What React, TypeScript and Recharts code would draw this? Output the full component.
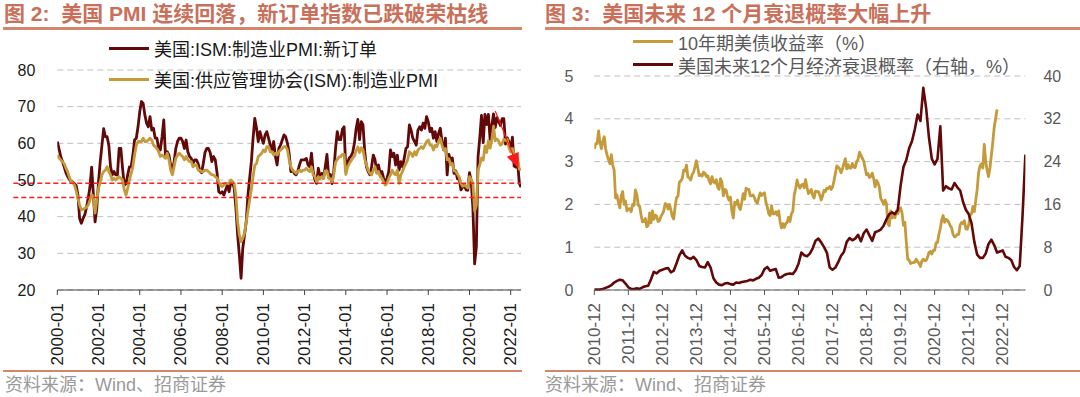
import React from 'react';
import { LineChart, Line, XAxis, YAxis, CartesianGrid, ReferenceLine, Legend } from 'recharts';

// ---------------- Left chart data (monthly, 2000-01 .. 2022-07) ----------------
const LEFT_TICKS = [0, 24, 48, 72, 96, 120, 144, 168, 192, 216, 240, 264];
const LEFT_TICK_LABELS = ['2000-01', '2002-01', '2004-01', '2006-01', '2008-01', '2010-01', '2012-01', '2014-01', '2016-01', '2018-01', '2020-01', '2022-01'];
const LEFT_Y_TICKS = [20, 30, 40, 50, 60, 70, 80];

const NEW_ORDERS = [
  60.5, 58.5, 56.4, 55.0, 53.6, 52.0, 51.0, 50.2, 49.5, 49.5, 49.0, 48.5,
  46.0, 39.5, 38.2, 39.5, 40.5, 42.5, 45.0, 48.0, 53.5, 46.0, 38.6, 42.3,
  49.5, 55.0, 59.5, 64.0, 61.8, 61.8, 59.5, 53.6, 51.4, 52.3, 51.4, 51.4,
  58.6, 58.6, 53.2, 48.6, 49.0, 51.4, 53.6, 53.6, 56.8, 60.9, 61.4, 64.5,
  68.6, 71.4, 70.9, 67.7, 65.5, 64.5, 67.3, 63.6, 64.1, 61.4, 61.4, 58.6,
  58.2, 61.8, 66.4, 56.4, 57.7, 56.8, 54.1, 52.3, 55.0, 58.6, 60.5, 61.4,
  61.4, 60.5, 58.6, 60.9, 57.7, 56.4, 55.9, 54.5, 55.5, 55.5, 54.5, 52.5,
  52.0, 54.5, 57.5, 58.6, 58.6, 57.5, 55.0, 56.4, 55.5, 52.0, 46.8, 46.4,
  46.8, 45.9, 47.3, 48.6, 46.8, 49.1, 49.5, 47.7, 42.3, 35.0, 29.5, 23.2,
  31.4, 35.0, 38.6, 45.9, 50.5, 55.0, 61.4, 66.8, 64.1, 60.5, 63.2, 61.4,
  60.0, 62.3, 63.2, 61.4, 59.5, 58.2, 60.5, 56.4, 54.1, 58.6, 59.5, 60.9,
  62.3, 61.8, 60.0, 57.3, 52.3, 52.7, 51.8, 51.4, 52.3, 54.1, 55.5, 55.5,
  55.5, 55.9, 54.1, 53.6, 57.3, 52.3, 50.0, 49.1, 53.2, 50.5, 51.8, 50.5,
  53.5, 57.0, 51.0, 51.5, 49.0, 52.5, 58.5, 63.2, 61.0, 61.0, 63.8, 64.5,
  52.5, 54.8, 56.0, 56.5, 57.5, 60.0, 64.0, 66.5, 61.0, 65.9, 65.0, 57.8,
  53.6, 52.3, 51.4, 53.6, 56.8, 55.5, 52.3, 54.1, 51.8, 52.3, 50.5, 49.1,
  50.5, 52.3, 58.2, 56.4, 57.3, 54.1, 56.8, 52.7, 55.0, 53.6, 55.9, 58.6,
  59.1, 65.0, 63.6, 61.4, 60.5, 59.5, 63.6, 64.5, 63.6, 65.5, 64.1, 67.3,
  65.9, 63.2, 64.1, 61.4, 63.2, 60.5, 62.7, 64.1, 60.5, 58.2, 61.4, 51.4,
  57.0, 55.3, 56.0, 51.8, 52.5, 50.3, 50.5, 47.3, 48.0, 48.6, 47.3, 47.2,
  52.0, 49.8, 42.2, 27.1, 31.8, 56.4, 61.5, 67.6, 60.2, 67.9, 65.1, 67.9,
  61.1, 64.8, 68.0, 64.3, 67.0, 66.0, 64.9, 66.7, 66.7, 59.8, 61.5, 60.4,
  57.9, 61.7, 53.8, 53.5, 55.1, 49.2, 48.0,
];

const PMI = [
  56.8, 56.0, 55.5, 54.9, 54.5, 53.3, 52.3, 50.8, 49.5, 49.3, 48.6, 47.0,
  45.0, 43.2, 41.8, 42.0, 42.3, 42.5, 43.2, 44.5, 46.0, 45.5, 41.0, 44.5,
  47.7, 49.5, 51.4, 52.3, 52.7, 53.6, 52.3, 51.4, 50.0, 50.5, 50.0, 50.5,
  50.9, 50.5, 50.0, 47.3, 45.9, 47.7, 50.0, 51.8, 53.6, 56.8, 59.5, 60.5,
  60.5, 60.5, 61.4, 60.5, 60.5, 60.9, 61.4, 60.9, 59.5, 59.1, 58.6, 57.7,
  56.4, 56.8, 56.4, 55.9, 57.3, 55.5, 52.7, 51.4, 53.6, 55.9, 56.8, 57.3,
  56.8, 56.4, 55.5, 56.4, 55.5, 55.0, 55.0, 53.6, 54.1, 54.1, 52.7, 52.7,
  52.3, 52.3, 52.7, 52.7, 52.3, 51.8, 51.4, 51.4, 50.9, 50.5, 49.5, 48.6,
  48.2, 48.6, 49.1, 49.1, 49.1, 50.0, 49.5, 49.1, 45.9, 38.6, 35.0, 33.2,
  34.1, 35.5, 38.5, 41.5, 44.5, 47.5, 51.0, 54.0, 54.5, 56.4, 56.8, 57.3,
  58.2, 57.7, 59.1, 59.1, 57.7, 57.7, 56.8, 57.3, 56.8, 57.7, 58.2, 58.6,
  59.1, 59.1, 58.2, 55.5, 53.6, 52.7, 52.3, 51.8, 52.3, 52.7, 52.3, 52.7,
  52.7, 53.2, 52.7, 52.3, 53.6, 51.4, 50.9, 49.5, 50.9, 50.5, 50.9, 50.5,
  52.5, 52.5, 50.5, 50.3, 49.5, 51.5, 54.8, 55.6, 56.3, 56.4, 57.0, 57.0,
  51.5, 53.4, 54.5, 55.2, 56.0, 56.5, 58.0, 59.0, 57.5, 58.8, 58.2, 55.7,
  54.1, 52.7, 51.8, 51.4, 52.7, 53.6, 51.8, 52.3, 50.9, 50.5, 49.5, 48.6,
  49.1, 50.5, 51.4, 52.7, 51.8, 51.4, 52.7, 49.1, 51.4, 52.3, 53.6, 54.5,
  55.5, 57.7, 57.3, 56.4, 57.7, 56.8, 58.2, 58.6, 59.1, 58.6, 59.5, 60.5,
  60.9, 59.5, 59.5, 58.2, 59.5, 59.1, 60.5, 61.4, 59.5, 58.2, 58.6, 55.5,
  55.8, 54.2, 54.5, 52.5, 52.3, 51.6, 50.8, 49.1, 48.3, 48.5, 48.3, 47.8,
  50.9, 50.1, 49.1, 41.5, 43.1, 52.6, 54.2, 56.0, 55.4, 59.3, 57.5, 60.7,
  58.7, 60.8, 64.7, 60.7, 61.2, 60.6, 59.5, 59.9, 61.1, 60.8, 61.1, 58.8,
  57.6, 58.6, 57.1, 55.4, 56.1, 53.0, 52.8,
];

// red dashed reference levels and the annotation arrow (month index, value)
const RED_LEVELS = [49.1, 45.2];
const ARROW = [{ x: 255, y: 68.8 }, { x: 268.5, y: 53.2 }];

// ---------------- Right chart data ----------------
const RIGHT_TICKS = [0, 12, 24, 36, 48, 60, 72, 84, 96, 108, 120, 132, 144];
const RIGHT_TICK_LABELS = ['2010-12', '2011-12', '2012-12', '2013-12', '2014-12', '2015-12', '2016-12', '2017-12', '2018-12', '2019-12', '2020-12', '2021-12', '2022-12'];
const YIELD_TICKS = [0, 1, 2, 3, 4, 5];
const PROB_TICKS = [0, 8, 16, 24, 32, 40];

// 10Y UST yield, half-month steps starting 2010-12
const YIELD_10Y = [
  3.30, 3.42, 3.42, 3.72, 3.45, 3.30, 3.47, 3.58, 3.30, 3.15, 3.05, 2.95, 3.16, 2.92, 2.80, 2.15, 2.22, 2.05, 1.92, 2.20, 2.30, 2.00, 2.08, 1.85,
  1.89, 1.90, 1.83, 2.00, 1.98, 2.34, 2.23, 1.98, 1.95, 1.75, 1.59, 1.60, 1.67, 1.48, 1.51, 1.80, 1.57, 1.85, 1.65, 1.75, 1.72, 1.60, 1.62, 1.72,
  1.78, 1.85, 2.02, 2.00, 1.89, 2.00, 1.87, 1.72, 1.66, 1.95, 2.16, 2.19, 2.52, 2.55, 2.60, 2.80, 2.78, 2.92, 2.64, 2.62, 2.57, 2.70, 2.75, 2.88,
  3.02, 2.85, 2.67, 2.70, 2.66, 2.75, 2.73, 2.65, 2.67, 2.55, 2.48, 2.65, 2.53, 2.50, 2.58, 2.40, 2.35, 2.60, 2.52, 2.20, 2.35, 2.33, 2.18, 2.10,
  2.17, 1.85, 1.68, 2.05, 2.00, 2.10, 1.94, 1.88, 2.05, 2.25, 2.12, 2.38, 2.35, 2.35, 2.20, 2.20, 2.22, 2.15, 2.06, 2.03, 2.16, 2.27, 2.21, 2.25,
  2.27, 2.05, 1.94, 1.78, 1.74, 1.97, 1.78, 1.78, 1.83, 1.75, 1.85, 1.60, 1.45, 1.55, 1.46, 1.55, 1.58, 1.70, 1.60, 1.78, 1.84, 2.22, 2.37, 2.57,
  2.45, 2.38, 2.45, 2.47, 2.39, 2.58, 2.40, 2.25, 2.29, 2.35, 2.21, 2.15, 2.31, 2.30, 2.30, 2.22, 2.10, 2.20, 2.33, 2.30, 2.38, 2.37, 2.42, 2.35,
  2.40, 2.55, 2.72, 2.90, 2.87, 2.83, 2.74, 2.83, 2.95, 3.07, 2.83, 2.93, 2.85, 2.85, 2.96, 2.87, 2.86, 3.00, 3.05, 3.22, 3.15, 3.08, 3.01, 2.85,
  2.69, 2.72, 2.63, 2.65, 2.73, 2.60, 2.41, 2.56, 2.51, 2.40, 2.14, 2.08, 2.00, 2.10, 2.02, 1.55, 1.50, 1.85, 1.68, 1.75, 1.69, 1.83, 1.78, 1.88,
  1.92, 1.80, 1.51, 1.58, 1.13, 0.72, 0.70, 0.62, 0.64, 0.64, 0.65, 0.72, 0.66, 0.62, 0.55, 0.68, 0.72, 0.68, 0.69, 0.76, 0.88, 0.90, 0.84, 0.92,
  0.93, 1.10, 1.11, 1.30, 1.44, 1.64, 1.74, 1.58, 1.65, 1.63, 1.58, 1.50, 1.45, 1.30, 1.24, 1.26, 1.30, 1.30, 1.52, 1.58, 1.55, 1.62, 1.43, 1.42,
  1.52, 1.75, 1.78, 1.95, 1.83, 2.10, 2.35, 2.75, 2.90, 2.95, 2.85, 3.40, 3.00, 2.80, 2.65, 2.85, 3.15, 3.45, 3.80, 4.00, 4.22,
];

// US 12-month-ahead recession probability (%), monthly starting 2010-12
const RECESSION_PROB = [
  0.1, 0.1, 0.1, 0.2, 0.4, 0.6, 0.9, 1.4, 1.7, 1.9, 1.8, 1.2,
  0.5, 0.2, 0.2, 0.3, 0.2, 0.5, 0.7, 0.8, 2.0, 3.4, 3.1, 3.6,
  3.8, 4.0, 4.1, 3.3, 3.6, 5.0, 6.5, 7.4, 6.4, 6.0, 5.8, 6.2,
  5.6, 4.5, 4.3, 4.2, 5.2, 4.2, 2.2, 1.4, 1.0, 0.9, 1.2, 1.3,
  1.1, 1.0, 1.4, 1.3, 1.5, 1.6, 1.7, 1.9, 1.8, 2.1, 2.3, 2.8,
  3.9, 4.3, 3.6, 3.8, 3.9, 2.3, 2.4, 2.8, 3.0, 3.1, 3.0, 3.7,
  4.9, 7.0, 6.5, 6.3, 6.8, 7.8, 9.2, 9.6, 8.9, 8.0, 7.0, 4.2,
  3.8, 4.2, 5.2, 6.4, 7.1, 9.0, 9.7, 9.3, 9.6, 10.3, 9.1, 10.6,
  11.3, 10.2, 9.2, 10.8, 11.0, 11.3, 12.0, 13.2, 14.2, 14.5, 14.2, 15.0,
  19.5, 23.0, 24.3, 26.5, 27.8, 30.0, 32.8, 31.6, 37.8, 34.0, 28.5, 24.5,
  23.5, 24.5, 30.6, 18.6, 19.4, 19.0, 18.8, 20.0, 19.2, 18.6, 16.5, 15.0,
  14.2, 12.5, 9.0, 6.6, 6.0, 6.0, 6.8, 8.6, 9.4, 8.4, 7.0, 7.2,
  7.4, 6.2, 6.0, 5.6, 4.3, 3.7, 4.5, 14.0, 25.3,
];

// ---------------- styles ----------------
const MAROON = '#620808';
const GOLD = '#C49A3A';
const TITLE_COLOR = '#C8705A';
const RULE_COLOR = '#D3866A';
const GRID = '#BFBFBF';
const LATIN = "'Liberation Sans', Arial, 'Noto Sans CJK SC', sans-serif";

const leftData = NEW_ORDERS.map((v, i) => ({ m: i, no: v, pmi: PMI[i] }));
const yieldData = YIELD_10Y.map((v, i) => ({ m: i / 2, y: v }));
const probData = RECESSION_PROB.map((v, i) => ({ m: i, p: v }));

const makeTick = (ticks: number[], labels: string[], color: string) => (props: any) => {
  const { x, y, payload } = props;
  const idx = ticks.indexOf(payload.value);
  return (
    <text
      transform={`translate(${x},${y}) rotate(-90)`}
      textAnchor="end"
      dominantBaseline="central"
      fontSize={17}
      fontFamily={LATIN}
      fill={color}
    >
      {labels[idx]}
    </text>
  );
};

const redLineShape = (p: any) => (
  <line x1={p.x1 - 44} y1={p.y1} x2={p.x2} y2={p.y2} stroke="#FF1F1F" strokeWidth={1.5} strokeDasharray="5 3" />
);

const arrowShape = (p: any) => {
  const { x1, y1, x2, y2 } = p;
  const ang = Math.atan2(y2 - y1, x2 - x1);
  const L = 15;
  const W = 6.5;
  const bx = x2 - L * Math.cos(ang);
  const by = y2 - L * Math.sin(ang);
  const px = -Math.sin(ang) * W;
  const py = Math.cos(ang) * W;
  return (
    <g>
      <line x1={x1} y1={y1} x2={bx} y2={by} stroke="#FF1A1A" strokeWidth={1.2} />
      <polygon points={`${x2},${y2} ${bx + px},${by + py} ${bx - px},${by - py}`} fill="#FF1A1A" />
    </g>
  );
};

const legendContent = (items: { label: string; color: string }[], rowH: number, textColor: string) => () => (
  <div style={{ display: 'flex', flexDirection: 'column', fontFamily: LATIN, fontSize: 18, color: textColor }}>
    {items.map((it) => (
      <div key={it.label} style={{ display: 'flex', alignItems: 'center', height: rowH, whiteSpace: 'nowrap' }}>
        <span style={{ display: 'inline-block', width: 40, height: 3, background: it.color, marginRight: 5 }} />
        <span>{it.label}</span>
      </div>
    ))}
  </div>
);

const LEFT_LEGEND = [
  { label: '美国:ISM:制造业PMI:新订单', color: MAROON },
  { label: '美国:供应管理协会(ISM):制造业PMI', color: GOLD },
];
const RIGHT_LEGEND = [
  { label: '10年期美债收益率（%）', color: GOLD },
  { label: '美国未来12个月经济衰退概率（右轴，%）', color: MAROON },
];

const abs = (s: React.CSSProperties): React.CSSProperties => ({ position: 'absolute', ...s });

const titleStyle = (left: number): React.CSSProperties =>
  abs({ left, top: 1, height: 26, lineHeight: '26px', fontSize: 21, fontWeight: 700, color: TITLE_COLOR, fontFamily: LATIN, whiteSpace: 'nowrap' });

const sourceStyle = (left: number): React.CSSProperties =>
  abs({ left, top: 374, height: 22, lineHeight: '22px', fontSize: 18, color: '#9A9A9A', fontFamily: LATIN, whiteSpace: 'nowrap' });

export default function App() {
  return (
    <div style={abs({ left: 0, top: 0, width: 1080, height: 397, background: '#fff', overflow: 'hidden' })}>
      {/* titles */}
      <div style={titleStyle(4)}>图 2:&nbsp; 美国 PMI 连续回落，新订单指数已跌破荣枯线</div>
      <div style={titleStyle(545)}>图 3:&nbsp; 美国未来 12 个月衰退概率大幅上升</div>
      <div style={abs({ left: 3, top: 27, width: 519, height: 2.5, background: RULE_COLOR })} />
      <div style={abs({ left: 545, top: 27, width: 535, height: 2.5, background: RULE_COLOR })} />

      {/* left chart */}
      <div style={abs({ left: 0, top: 0 })}>
        <LineChart width={540} height={370} data={leftData} margin={{ top: 70, right: 19, left: 0, bottom: 0 }}>
          <CartesianGrid vertical={false} stroke={GRID} strokeDasharray="6 4" />
          <XAxis
            dataKey="m"
            type="number"
            domain={[0, 270]}
            allowDataOverflow
            ticks={LEFT_TICKS}
            interval={0}
            height={80}
            tickSize={5}
            tickMargin={8}
            axisLine={{ stroke: '#404040' }}
            tickLine={{ stroke: '#404040' }}
            tick={makeTick(LEFT_TICKS, LEFT_TICK_LABELS, '#1a1a1a')}
          />
          <YAxis
            domain={[20, 80]}
            ticks={LEFT_Y_TICKS}
            interval={0}
            width={57.3}
            axisLine={false}
            tickLine={false}
            tickSize={0}
            tickMargin={22}
            tick={{ fontSize: 16, fill: '#1a1a1a', fontFamily: LATIN }}
          />
          <Legend
            layout="horizontal"
            verticalAlign="middle"
            align="center"
            content={legendContent(LEFT_LEGEND, 31, '#1a1a1a')}
            wrapperStyle={{ position: 'absolute', left: 109, top: 32.5, width: 'auto', height: 'auto' }}
          />
          <Line dataKey="no" stroke={MAROON} strokeWidth={2.8} dot={false} activeDot={false} isAnimationActive={false} strokeLinejoin="round" />
          <Line dataKey="pmi" stroke={GOLD} strokeWidth={2.8} dot={false} activeDot={false} isAnimationActive={false} strokeLinejoin="round" />
          {RED_LEVELS.map((v) => (
            <ReferenceLine key={v} y={v} ifOverflow="visible" shape={redLineShape} />
          ))}
          <ReferenceLine segment={ARROW} ifOverflow="visible" shape={arrowShape} />
        </LineChart>
      </div>

      {/* right chart */}
      <div style={abs({ left: 540, top: 0 })}>
        <LineChart width={540} height={370} margin={{ top: 76, right: 0, left: 0, bottom: 0 }}>
          <CartesianGrid vertical={false} yAxisId="l" stroke={GRID} strokeDasharray="6 4" />
          <XAxis
            dataKey="m"
            type="number"
            domain={[0, 152]}
            allowDataOverflow
            ticks={RIGHT_TICKS}
            interval={0}
            height={80}
            tickSize={5}
            tickMargin={8}
            axisLine={{ stroke: '#595959' }}
            tickLine={{ stroke: '#595959' }}
            tick={makeTick(RIGHT_TICKS, RIGHT_TICK_LABELS, '#595959')}
          />
          <YAxis
            yAxisId="l"
            domain={[0, 5]}
            ticks={YIELD_TICKS}
            interval={0}
            width={54.3}
            axisLine={false}
            tickLine={false}
            tickSize={0}
            tickMargin={21}
            tick={{ fontSize: 16, fill: '#595959', fontFamily: LATIN }}
          />
          <YAxis
            yAxisId="r"
            orientation="right"
            domain={[0, 40]}
            ticks={PROB_TICKS}
            interval={0}
            width={54.6}
            axisLine={false}
            tickLine={false}
            tickSize={0}
            tickMargin={18}
            tick={{ fontSize: 16, fill: '#595959', fontFamily: LATIN }}
          />
          <Legend
            layout="horizontal"
            verticalAlign="middle"
            align="center"
            content={legendContent(RIGHT_LEGEND, 23, '#595959')}
            wrapperStyle={{ position: 'absolute', left: 93, top: 30, width: 'auto', height: 'auto' }}
          />
          <Line yAxisId="l" data={yieldData} dataKey="y" stroke={GOLD} strokeWidth={2.8} dot={false} activeDot={false} isAnimationActive={false} strokeLinejoin="round" />
          <Line yAxisId="r" data={probData} dataKey="p" stroke={MAROON} strokeWidth={2.6} dot={false} activeDot={false} isAnimationActive={false} strokeLinejoin="round" />
        </LineChart>
      </div>

      {/* bottom rules and sources */}
      <div style={abs({ left: 3, top: 369.5, width: 519, height: 2.5, background: RULE_COLOR })} />
      <div style={abs({ left: 545, top: 369.5, width: 535, height: 2.5, background: RULE_COLOR })} />
      <div style={sourceStyle(5)}>资料来源：Wind、招商证券</div>
      <div style={sourceStyle(545)}>资料来源：Wind、招商证券</div>
    </div>
  );
}
